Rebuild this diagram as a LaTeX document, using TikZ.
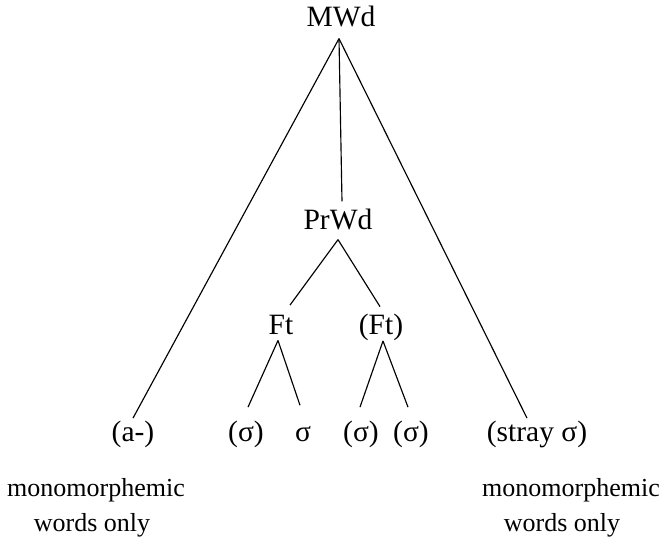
\documentclass[tikz,border=0pt]{standalone}
\usepackage{fontspec}
\setmainfont{Liberation Serif}
\begin{document}
\begin{tikzpicture}[x=1pt,y=1pt,
  lbl/.style={inner sep=0pt,anchor=base,font=\fontsize{29.5}{32}\selectfont},
  note/.style={inner sep=0pt,anchor=base,font=\fontsize{26}{29}\selectfont},
  edge/.style={line width=1.15pt,black}]
\useasboundingbox (0,0) rectangle (662,545);
\node[lbl] (MWd) at (341,518) {MWd};
\node[lbl] (PrWd) at (338,315) {PrWd};
\node[lbl] (Ft) at (281,210) {Ft};
\node[lbl] (Ft2) at (381,210) {(Ft)};
\node[lbl] (a) at (133,103) {(a-)};
\node[lbl] (s1) at (246,103) {(σ)};
\node[lbl] (s2) at (303,103) {σ};
\node[lbl] (s3) at (361,103) {(σ)};
\node[lbl] (s4) at (411,103) {(σ)};
\node[lbl] (stray) at (537,103) {(stray σ)};
\node[note] (mono1) at (96,48) {monomorphemic};
\node[note] (words1) at (92,13) {words only};
\node[note] (mono2) at (571,48) {monomorphemic};
\node[note] (words2) at (562,13) {words only};
% MWd
\draw[edge] ([xshift=-2pt,yshift=-11pt]MWd.south) -- ([yshift=3.2pt]a.north);
\draw[edge] ([xshift=-2pt,yshift=-11pt]MWd.south) -- ([xshift=4pt,yshift=7.9pt]PrWd.north);
\draw[edge] ([xshift=-2pt,yshift=-11pt]MWd.south) -- ([xshift=-10pt,yshift=3.2pt]stray.north);
% PrWd
\draw[edge] ([yshift=-9pt]PrWd.south) -- ([xshift=9pt,yshift=10.4pt]Ft.north);
\draw[edge] ([yshift=-9pt]PrWd.south) -- ([xshift=-1pt,yshift=7.7pt]Ft2.north);
% Ft
\draw[edge] ([xshift=-3pt,yshift=-5pt]Ft.south) -- ([xshift=2pt,yshift=14.2pt]s1.north);
\draw[edge] ([xshift=-3pt,yshift=-5pt]Ft.south) -- ([xshift=-3pt,yshift=21.4pt]s2.north);
% (Ft)
\draw[edge] ([xshift=2pt,yshift=0.5pt]Ft2.south) -- ([xshift=-1pt,yshift=14.2pt]s3.north);
\draw[edge] ([xshift=2pt,yshift=0.5pt]Ft2.south) -- ([xshift=-3pt,yshift=14.2pt]s4.north);
\end{tikzpicture}
\end{document}
